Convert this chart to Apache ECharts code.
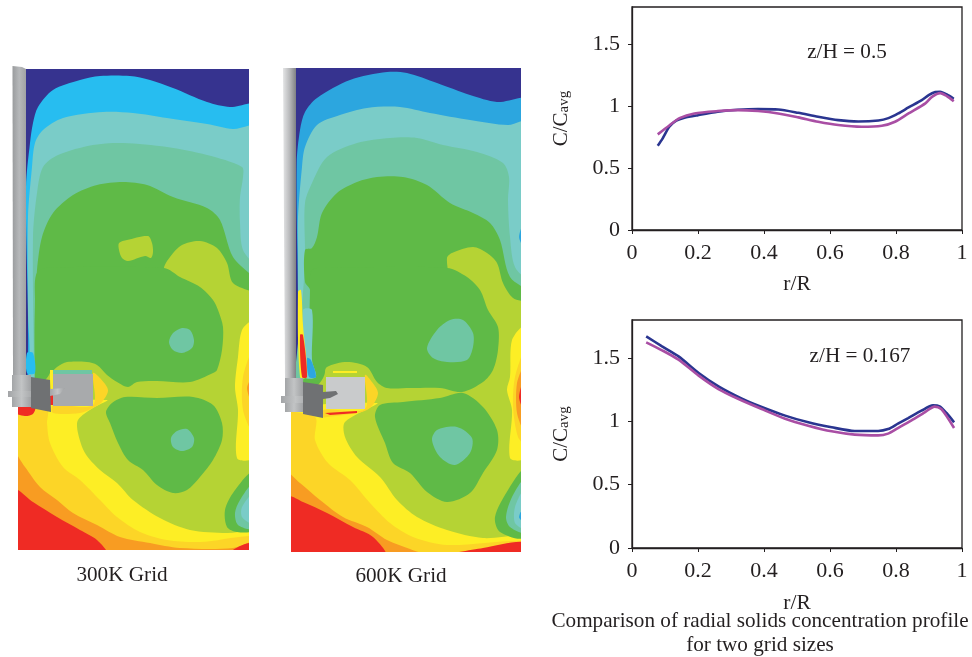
<!DOCTYPE html>
<html><head><meta charset="utf-8">
<style>html,body{margin:0;padding:0;background:#fff}#c{width:972px;height:657px}</style>
<script src="https://cdn.jsdelivr.net/npm/echarts@6/dist/echarts.min.js"></script>
</head><body><div id="c"></div>
<script>
// ---- radial profile data ----
const topBlue=[[.078,.68],[.093,.74],[.113,.833],[.134,.882],[.159,.906],[.2,.927],[.26,.954],[.321,.97],[.382,.976],[.443,.973],[.504,.946],[.564,.914],[.625,.887],[.686,.876],[.747,.884],[.777,.903],[.807,.941],[.838,.989],[.878,1.048],[.899,1.089],[.919,1.113],[.934,1.116],[.954,1.094],[.975,1.059]];
const topPurple=[[.078,.772],[.113,.844],[.144,.903],[.189,.941],[.26,.96],[.321,.968],[.382,.96],[.443,.941],[.504,.909],[.564,.874],[.625,.847],[.696,.833],[.757,.841],[.797,.874],[.838,.941],[.889,1.022],[.909,1.075],[.934,1.105],[.954,1.081],[.975,1.04]];
const lowBlue=[[.043,1.671],[.091,1.592],[.141,1.513],[.202,1.382],[.262,1.276],[.333,1.179],[.393,1.113],[.464,1.045],[.534,.992],[.605,.953],[.675,.924],[.746,.924],[.776,.939],[.806,.982],[.837,1.026],[.877,1.084],[.912,1.126],[.932,1.118],[.953,1.066],[.976,.992]];
const lowPurple=[[.043,1.624],[.091,1.561],[.141,1.487],[.202,1.361],[.262,1.255],[.323,1.176],[.393,1.097],[.464,1.021],[.534,.966],[.605,.921],[.675,.895],[.746,.889],[.776,.903],[.806,.947],[.847,1.008],[.887,1.071],[.917,1.116],[.937,1.097],[.957,1.026],[.976,.947]];
const rTicks=[0,0.2,0.4,0.6,0.8,1];
const cTicks=[0,0.5,1,1.5];
const gridLabels=['300K Grid','600K Grid'];
const captionLines=['Comparison of radial solids concentration profile','for two grid sizes'];

// ---- contour regions of the 300K panel, in picture units ----
const aNavy=[[18,69],[249,69],[249,550],[18,550]];
const aSky=[[26,187],[30,143],[33,123],[38,107],[53,90],[80,80],[100,76],[130,76],[150,80],[173,88],[207,102],[230,107],[249,106],[249,550],[18,550],[18,408],[26,400]];
const aPale=[[28,380],[28,310],[28,217],[32,167],[35,143],[43,130],[63,118],[103,112],[133,113],[167,118],[207,124],[233,129],[249,127],[249,550],[18,550],[18,410]];
const aTeal=[[34,380],[33,237],[37,193],[43,167],[58,155],[93,145],[123,143],[167,147],[207,155],[242,167],[243,177],[240,197],[240,223],[243,250],[249,277],[249,550],[34,550]];
const aGreen=[[35,380],[35,310],[37,270],[42,237],[53,213],[73,195],[97,185],[123,182],[147,185],[173,197],[207,208],[220,220],[233,257],[249,290],[249,550],[35,550]];
const aLime=[[164,268],[170,257],[182,245],[200,241],[217,248],[227,263],[233,283],[249,300],[249,550],[18,550],[18,410],[40,385],[50,372],[50,300],[164,300]];
const aLobeUp=[[164,268],[180,277],[200,287],[213,300],[218,310],[223,327],[222,350],[217,370],[213,373],[190,382],[157,381],[137,382],[128,387],[117,382],[107,375],[97,365],[87,362],[67,362],[57,367],[50,373],[38,374],[35,365],[35,300],[36,275],[45,268]];
const aIsleLime=[[119,243],[127,240],[148,236],[152,243],[153,252],[151,258],[145,256],[128,261],[122,258],[119,250]];
const aIsleUp=[[169,342],[173,333],[182,328],[190,330],[194,340],[192,348],[182,353],[173,350]];
const aLobeLow=[[106,412],[112,403],[125,397],[157,398],[193,397],[213,405],[222,423],[222,440],[213,460],[200,477],[187,490],[173,493],[157,485],[143,470],[128,460],[118,443],[110,423]];
const aIsleLow=[[171,438],[177,431],[187,429],[194,438],[192,447],[182,451],[173,447]];
const aYellow=[[18,410],[107,400],[93,408],[78,420],[78,433],[85,453],[100,470],[117,483],[133,500],[160,518],[190,530],[227,533],[249,532],[249,550],[18,550]];
const aAmber=[[18,410],[47,410],[47,423],[50,443],[63,467],[80,480],[100,500],[117,517],[140,532],[167,540],[200,542],[249,537],[249,550],[18,550]];
const aOrange=[[18,442],[25,467],[40,487],[57,500],[73,513],[97,525],[120,537],[150,543],[180,548],[233,548],[249,540],[249,550],[18,550]];
const aRed=[[18,490],[33,502],[57,517],[80,530],[97,540],[106,550],[18,550]];
const aRedRight=[[230,550],[240,546],[249,543],[249,550]];
const aPocketGreen=[[249,473],[233,493],[225,510],[227,527],[237,532],[249,530]];
const aPocketTeal=[[249,485],[240,500],[235,513],[238,525],[249,528]];
const aPocketPale=[[249,495],[242,507],[242,517],[249,523]];
const aWallYellow=[[249,322],[242,330],[238,357],[235,387],[238,410],[237,458],[249,458]];
const aWallAmber=[[249,353],[243,377],[243,410],[249,430]];
const aWallOrange=[[249,378],[247,388],[249,403]];
const aSpotSky=[[27,353],[33,353],[35,373],[27,373]];
const aHalo=[[93,373],[100,378],[108,390],[102,402],[93,408],[80,413],[53,413],[53,405],[93,405]];
const aUnderRed=[[18,407],[35,407],[33,414],[25,416],[18,413]];
const aGlowYellow=[[50,370],[53,370],[53,393],[50,393]];
const aGlowRed=[[50,393],[53,393],[53,405],[50,405]];
const aStripe=[[53,370],[92,370],[92,374],[53,374]];
const aPipe=[[12.5,66],[22,67],[26,69],[26,375],[13,375]];
const aBase=[[12,375],[31,375],[31,407],[12,407]];
const aRing=[[8,391],[35,391],[35,397],[8,397]];
const aBox=[[53,374],[93,374],[93,406],[53,406]];
const aFlange=[[31,377],[50,380],[51,412],[31,408]];
const aTongue=[[50,389],[65,388],[60,394],[50,396]];

// ---- contour regions of the 600K panel, in picture units ----
const bNavy=[[291,68],[521,68],[521,552],[291,552]];
const bSky=[[296.7,163],[300,130],[305,112],[317,98],[350,80],[387,72],[407,73],[437,83],[470,95],[497,102],[521,101],[521,552],[291,552],[291,400],[296,400]];
const bPale=[[298,340],[298,257],[298,217],[302,167],[305,147],[317,125],[340,115],[367,108],[400,107],[430,113],[470,120],[508,125],[521,121],[521,552],[298,552]];
const bTeal=[[305,250],[305,203],[312,183],[327,157],[357,143],[390,138],[417,138],[443,145],[477,152],[503,163],[509,177],[508,200],[510,237],[515,267],[521,290],[521,552],[305,552]];
const bSpotRight=[[521,223],[519,237],[521,247]];
const bGreen=[[305,250],[312,248],[317,237],[322,213],[337,193],[357,182],[377,177],[403,177],[427,185],[450,203],[473,213],[490,223],[500,240],[510,277],[521,298],[521,552],[310,552],[310,290],[305,282]];
const bLime=[[447,258],[452,253],[473,247],[487,253],[497,263],[503,283],[513,298],[521,307],[521,552],[291,552],[291,420],[318,385],[325,372],[325,300],[447,300]];
const bLobeUp=[[447,268],[467,277],[480,290],[488,310],[498,327],[498,350],[493,370],[483,382],[462,392],[440,388],[410,388],[387,388],[377,382],[367,367],[347,362],[327,367],[322,377],[314,377],[311,370],[310,350],[310,290],[312,270],[330,268]];
const bIsleUp=[[427,348],[437,330],[450,320],[463,320],[473,333],[473,347],[467,360],[447,362],[433,358]];
const bLobeLow=[[375,417],[380,405],[403,402],[440,398],[463,393],[483,407],[497,430],[497,450],[483,473],[470,493],[447,502],[427,492],[410,473],[393,463],[385,443]];
const bIsleLow=[[432,440],[437,430],[457,427],[472,438],[470,453],[455,465],[440,457]];
const bYellow=[[291,420],[377,403],[345,422],[345,437],[357,457],[380,477],[397,500],[417,517],[447,530],[483,538],[521,537],[521,552],[291,552]];
const bAmber=[[291,417],[315,417],[315,440],[328,463],[350,480],[370,503],[390,523],[413,537],[447,545],[521,542],[521,552],[291,552]];
const bOrange=[[291,467],[300,483],[320,500],[343,517],[367,527],[387,540],[410,549],[447,552],[291,552]];
const bRed=[[291,497],[303,502],[327,513],[353,527],[373,537],[385,552],[291,552]];
const bRedRight=[[447,552],[483,548],[521,542],[521,552]];
const bPocketGreen=[[521,470],[508,490],[495,517],[500,532],[521,537]];
const bPocketTeal=[[521,480],[512,497],[506,517],[510,527],[521,532]];
const bPocketPale=[[521,490],[515,507],[515,523],[521,528]];
const bPocketSky=[[521,507],[519,517],[521,522]];
const bWallYellow=[[521,327],[512,340],[510,377],[507,390],[512,410],[510,458],[521,458]];
const bWallAmber=[[521,353],[515,377],[513,407],[518,437],[521,443]];
const bWallOrange=[[521,367],[517,383],[517,413],[521,430]];
const bWallRed=[[521,380],[519,397],[521,410]];
const bLeftPale=[[303,310],[312,310],[312,360],[316,377],[305,377]];
const bLeftYellow=[[298,292],[301,290],[303,325],[307,377],[300,377]];
const bLeftRed=[[300,335],[303,335],[307,377],[302,377]];
const bLeftSky=[[307,358],[311,360],[316,377],[309,377]];
const bHalo=[[365,375],[372,382],[378,393],[372,406],[362,412],[327,417],[323,417],[323,410],[365,409]];
const bHaloTop=[[333,371],[357,371],[357,373],[333,373]];
const bHaloRed=[[325,413],[357,411],[357,413],[330,415]];
const bPipe=[[283,68],[296,68],[296,378],[285,378]];
const bBase=[[285,378],[303,378],[303,412],[285,412]];
const bRing=[[281,396],[310,396],[310,403],[281,403]];
const bBox=[[326,377],[365,377],[365,409],[326,409]];
const bFlange=[[303,382],[323,385],[323,418],[303,414]];
const bTongue=[[323,392],[336,391],[338,394],[330,398],[323,399]];

const sideGradient=(a,b,c)=>({type:'linear',x:0,y:0,x2:1,y2:0,colorStops:[{offset:0,color:a},{offset:.5,color:b},{offset:1,color:c}]});
const bandColor={navy:'#36338f',sky:'#27bdf0',sky2:'#2ca6df',pale:'#7accc8',teal:'#6fc6a3',green:'#5fba47',lime:'#b5d334',yellow:'#fdee25',amber:'#fcd527',orange:'#f89c22',red:'#ef2b24',
  pipe:sideGradient('#9a9c9e','#b6b8ba','#a0a2a4'),pipeB:sideGradient('#e4e5e6','#b9babc','#7f8184'),base:sideGradient('#a3a5a7','#c2c4c5','#a0a2a4'),dark:'#6f7173',box:'#a8aaac',boxB:'#c9cbcc'};

const panelA=[['navy',aNavy],['sky',aSky],['pale',aPale],['teal',aTeal],['green',aGreen],['lime',aLime],['green',aLobeUp],['lime',aIsleLime],['teal',aIsleUp],['green',aLobeLow],['teal',aIsleLow],['yellow',aYellow],['amber',aAmber],['orange',aOrange],['red',aRed],['red',aRedRight],['green',aPocketGreen],['teal',aPocketTeal],['pale',aPocketPale],['yellow',aWallYellow],['amber',aWallAmber],['orange',aWallOrange],['sky',aSpotSky],['amber',aHalo],['red',aUnderRed]];
const hardwareA=[['yellow',aGlowYellow],['red',aGlowRed],['teal',aStripe],['pipe',aPipe],['box',aBox],['base',aBase],['base',aRing],['dark',aFlange],['base',aTongue]];
const panelB=[['navy',bNavy],['sky2',bSky],['pale',bPale],['teal',bTeal],['sky2',bSpotRight],['green',bGreen],['lime',bLime],['green',bLobeUp],['teal',bIsleUp],['green',bLobeLow],['teal',bIsleLow],['yellow',bYellow],['amber',bAmber],['orange',bOrange],['red',bRed],['red',bRedRight],['green',bPocketGreen],['teal',bPocketTeal],['pale',bPocketPale],['sky2',bPocketSky],['yellow',bWallYellow],['amber',bWallAmber],['orange',bWallOrange],['red',bWallRed],['pale',bLeftPale],['yellow',bLeftYellow],['red',bLeftRed],['sky2',bLeftSky],['amber',bHalo]];
const hardwareB=[['yellow',bHaloTop],['red',bHaloRed],['pipeB',bPipe],['boxB',bBox],['base',bBase],['base',bRing],['dark',bFlange],['dark',bTongue]];

const ink='#231f20', serif='"Liberation Serif","Times New Roman",serif';
// region points lying on a panel edge are pushed outward so that the rounded outline still meets the edge cleanly; the grid clips the excess
function pushOut(p,ext,n){
  const d=n<8?3:12;
  return [p[0]<=ext[0]?p[0]-d:p[0]>=ext[1]?p[0]+d:p[0], p[1]>=ext[3]?p[1]+d:p[1]];
}
function contour(layers,idx,ext){
  return {type:'custom',coordinateSystem:'cartesian2d',xAxisIndex:idx,yAxisIndex:idx,silent:true,animation:false,clip:true,
    data:layers.map((l,i)=>[i]),
    renderItem:(params,api)=>{
      const l=layers[params.dataIndex];
      const solid=l[1]===layers[0][1];
      return {type:'polygon',shape:{points:l[1].map(p=>api.coord(solid?p:pushOut(p,ext,l[1].length))),smooth:solid?0:0.3},style:{fill:bandColor[l[0]],stroke:null}};
    }};
}
function hardware(layers,idx){
  return {type:'custom',coordinateSystem:'cartesian2d',xAxisIndex:idx,yAxisIndex:idx,silent:true,animation:false,clip:false,
    data:layers.map((l,i)=>[i]),
    renderItem:(params,api)=>{
      const l=layers[params.dataIndex];
      return {type:'polygon',shape:{points:l[1].map(p=>api.coord(p))},style:{fill:bandColor[l[0]],stroke:null}};
    }};
}
const extA=[18,249,69,550], extB=[291,521,68,552];
const pictureX=(min,max,i)=>({type:'value',gridIndex:i,min,max,show:false});
const pictureY=(min,max,i)=>({type:'value',gridIndex:i,min,max,inverse:true,show:false});
const rAxis=(i,gap)=>({type:'value',gridIndex:i,min:0,max:1,interval:0.2,name:'r/R',nameLocation:'middle',nameGap:gap,
  nameTextStyle:{color:ink,fontFamily:serif,fontSize:21.5},
  axisLine:{onZero:false,lineStyle:{color:ink,width:1.3}},axisTick:{show:true,length:4,lineStyle:{color:ink}},
  axisLabel:{color:ink,fontFamily:serif,fontSize:22,margin:12,showMinLabel:true,showMaxLabel:true,formatter:v=>rTicks.includes(+v.toFixed(1))?String(+v.toFixed(1)):''},splitLine:{show:false}});
const cAxis=(i)=>({type:'value',gridIndex:i,min:0,max:1.8,interval:0.5,name:'{m|C/C}{s|avg}',nameLocation:'middle',nameGap:60,
  nameTextStyle:{color:ink,fontFamily:serif,fontSize:20,rich:{m:{fontFamily:serif,fontSize:21,color:ink},s:{fontFamily:serif,fontSize:15,color:ink,padding:[7,0,0,0]}}},
  axisLine:{lineStyle:{color:ink,width:1.3}},axisTick:{show:true,length:4,lineStyle:{color:ink}},
  axisLabel:{color:ink,fontFamily:serif,fontSize:22,margin:12,showMinLabel:true,showMaxLabel:false,formatter:v=>cTicks.includes(v)?String(v):''},splitLine:{show:false}});
const profile=(d,c,i)=>({type:'line',xAxisIndex:i,yAxisIndex:i,data:d,showSymbol:false,smooth:0.25,animation:false,silent:true,lineStyle:{color:c,width:2.6}});
const txt=(text,x,y)=>({type:'text',x,y,silent:true,style:{text,x:0,y:0,fill:ink,font:'21.2px '+serif,textAlign:'center',textVerticalAlign:'middle'}});

const chart=echarts.init(document.getElementById('c'),null,{renderer:'canvas'});
chart.setOption({
  backgroundColor:'#fff',animation:false,
  grid:[
    {left:18,top:69,width:231,height:481,show:false},
    {left:291,top:68,width:230,height:484,show:false},
    {left:632,top:7,width:330,height:223,show:true,borderColor:ink,borderWidth:1.3,backgroundColor:'transparent'},
    {left:632,top:320,width:330,height:228,show:true,borderColor:ink,borderWidth:1.3,backgroundColor:'transparent'},
    {left:0,top:50,width:270,height:540,show:false},
    {left:270,top:50,width:260,height:540,show:false}
  ],
  xAxis:[pictureX(extA[0],extA[1],0),pictureX(extB[0],extB[1],1),rAxis(2,43),rAxis(3,44),pictureX(0,270,4),pictureX(270,530,5)],
  yAxis:[pictureY(extA[2],extA[3],0),pictureY(extB[2],extB[3],1),cAxis(2),cAxis(3),pictureY(50,590,4),pictureY(50,590,5)],
  series:[contour(panelA,0,extA),contour(panelB,1,extB),hardware(hardwareA,4),hardware(hardwareB,5),
    profile(topBlue,'#2a3590',2),profile(topPurple,'#a94ea4',2),
    profile(lowBlue,'#2a3590',3),profile(lowPurple,'#a94ea4',3)],
  graphic:[
    txt(gridLabels[0],122,575),txt(gridLabels[1],401,576),
    txt('z/H = 0.5',847,52),txt('z/H = 0.167',860,356),
    txt(captionLines[0],760,621),txt(captionLines[1],760,645)
  ]
});
</script></body></html>
